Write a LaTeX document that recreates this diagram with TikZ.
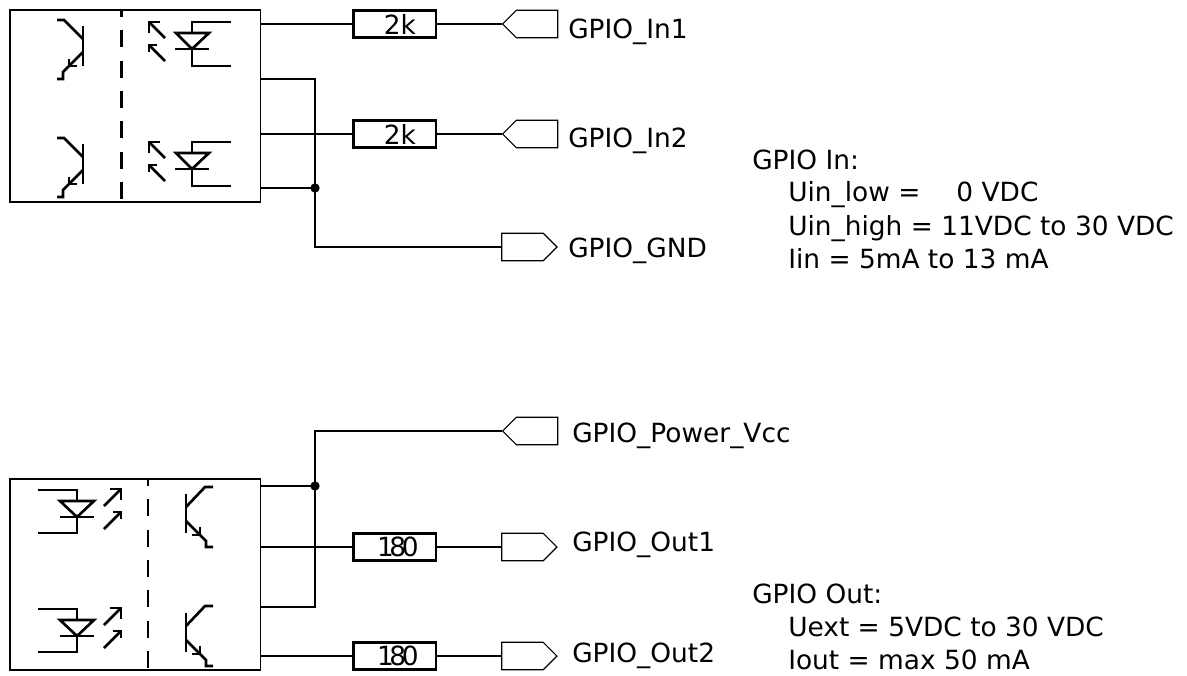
\documentclass[tikz,border=0pt]{standalone}
\usepackage{fontspec}
\setmainfont{DejaVu Sans}
\usetikzlibrary{shapes.symbols,calc}
\tikzset{
 wire/.style={line width=2pt,line join=miter},
 sym/.style={line width=2pt,line join=miter},
 box/.style={draw,line width=1.3pt,inner sep=0pt,outer sep=0pt},
 res/.style={draw,fill=white,line width=2pt,minimum width=62pt,minimum height=20.5pt,inner sep=0pt,font=\fontsize{19.8}{19.8}\selectfont},
 portin/.style={draw,line width=.9pt,signal,signal to=west,signal from=nowhere,signal pointer angle=90,minimum width=41.3pt,minimum height=20.6pt,inner sep=0pt},
 portout/.style={draw,line width=.9pt,signal,signal to=east,signal from=nowhere,signal pointer angle=90,minimum width=41.3pt,minimum height=20.6pt,inner sep=0pt},
 lbl/.style={anchor=base west,inner sep=0pt,font=\fontsize{19.8}{19.8}\selectfont},
 iso/.style={line width=2pt,dash pattern=on 12.75pt off 10pt,dash phase=7.5pt},
 dot/.style={circle,fill=black,draw=none,minimum size=7pt,inner sep=0pt},
}
\begin{document}
\begin{tikzpicture}[x=.75pt,y=-.75pt]
\useasboundingbox (0,0) rectangle (1187,675);
% upper coupler
\node[box,minimum width=187.9pt,minimum height=144pt,anchor=north west] (inbox) at (10,10) {};
\coordinate (isotop) at (121.5,10); \coordinate (isobot) at (121.5,202);
\draw[iso] (isotop) -- (isobot);
\foreach \d in {0,118}{
 \draw[sym] (57,20+\d) -- (64,20+\d) -- (83,39+\d);
 \draw[sym] (83,26+\d) -- (83,66+\d);
 \draw[sym] (83,52+\d) -- (63,72+\d) -- (63,79+\d) -- (57,79+\d);
 \draw[sym] (69,59+\d) -- (69,66+\d) -- (77,66+\d);
}
\foreach \d in {0,120}{
 \draw[sym] (165,38+\d) -- (149,22+\d);
 \draw[sym] (160,22+\d) -- (149,22+\d) -- (149,33+\d);
 \draw[sym] (165,61+\d) -- (149,45+\d);
 \draw[sym] (157,45+\d) -- (149,45+\d) -- (149,52+\d);
 \draw[sym] (231,22+\d) -- (192,22+\d) -- (192,33+\d);
 \draw[sym] (176,33+\d) -- (209,33+\d) -- (192,49+\d) -- cycle;
 \draw[sym] (175,49+\d) -- (209,49+\d);
 \draw[sym] (192,49+\d) -- (192,66+\d) -- (231,66+\d);
}
\node[res] (r1) at (394.5,24) {\hspace*{8pt}2k};
\node[res] (r2) at (394.5,134) {\hspace*{8pt}2k};
\node[portin] (p1) at (537,24) {};
\node[portin] (p2) at (537,134) {};
\node[portout] (p3) at (522.5,247) {};
\coordinate (a1) at (260,24);
\coordinate (a2) at (260,79);
\coordinate (a3) at (260,134);
\coordinate (a4) at (260,188);
\node[dot] (j1) at (315,188) {};
\draw[wire] (a1) -- (r1.west);
\draw[wire] (r1.east) -- (p1.west);
\draw[wire] (a3) -- (r2.west);
\draw[wire] (r2.east) -- (p2.west);
\draw[wire] (a2) -| (j1.center) |- (p3.west);
\draw[wire] (a4) -- (j1.center);
\node[lbl] (t1) at (568,38) {GPIO\_In1};
\node[lbl] (t2) at (568,147) {GPIO\_In2};
\node[lbl] (t3) at (568,257) {GPIO\_GND};
\node[lbl] (n1) at (752,169) {GPIO In:};
\node[lbl] (n2) at (788,201) {Uin\_low =\hspace{27pt}0 VDC};
\node[lbl] (n3) at (788,235) {Uin\_high = 11VDC to 30 VDC};
\node[lbl] (n4) at (788,268) {Iin = 5mA to 13 mA};
% lower coupler
\node[box,minimum width=187.9pt,minimum height=143.5pt,anchor=north west] (outbox) at (10,479) {};
\coordinate (isotopb) at (148,479); \coordinate (isobotb) at (148,670);
\draw[iso] (isotopb) -- (isobotb);
\foreach \d in {0,119}{
 \draw[sym] (38,490+\d) -- (77,490+\d) -- (77,501+\d);
 \draw[sym] (60,501+\d) -- (94,501+\d) -- (77,517+\d) -- cycle;
 \draw[sym] (60,517+\d) -- (94,517+\d);
 \draw[sym] (77,517+\d) -- (77,533+\d) -- (38,533+\d);
 \draw[sym] (104,506+\d) -- (121,489+\d);
 \draw[sym] (110,489+\d) -- (121,489+\d) -- (121,500+\d);
 \draw[sym] (104,529+\d) -- (121,512+\d);
 \draw[sym] (113,512+\d) -- (121,512+\d) -- (121,519+\d);
 \draw[sym] (186,494+\d) -- (186,533+\d);
 \draw[sym] (186,507+\d) -- (205,487+\d) -- (213,487+\d);
 \draw[sym] (186,521+\d) -- (206,541+\d) -- (206,547+\d) -- (213,547+\d);
 \draw[sym] (200,527+\d) -- (200,535+\d) -- (192,535+\d);
}
\node[res] (r3) at (394.5,547) {\hspace*{5pt}\addfontfeature{LetterSpace=-17}180};
\node[res] (r4) at (394.5,656) {\hspace*{5pt}\addfontfeature{LetterSpace=-17}180};
\node[portin] (p4) at (537,431) {};
\node[portout] (p5) at (522.5,547) {};
\node[portout] (p6) at (522.5,656) {};
\coordinate (b1) at (260,486);
\coordinate (b2) at (260,547);
\coordinate (b3) at (260,607);
\coordinate (b4) at (260,656);
\node[dot] (j2) at (315,486) {};
\draw[wire] (b1) -- (j2.center);
\draw[wire] (b3) -| (j2.center) |- (p4.west);
\draw[wire] (b2) -- (r3.west);
\draw[wire] (r3.east) -- (p5.west);
\draw[wire] (b4) -- (r4.west);
\draw[wire] (r4.east) -- (p6.west);
\node[lbl] (t4) at (572,442) {GPIO\_Power\_Vcc};
\node[lbl] (t5) at (572,551) {GPIO\_Out1};
\node[lbl] (t6) at (572,662) {GPIO\_Out2};
\node[lbl] (n5) at (752,603) {GPIO Out:};
\node[lbl] (n6) at (788,636) {Uext = 5VDC to 30 VDC};
\node[lbl] (n7) at (788,669) {Iout = max 50 mA};
\end{tikzpicture}
\end{document}
